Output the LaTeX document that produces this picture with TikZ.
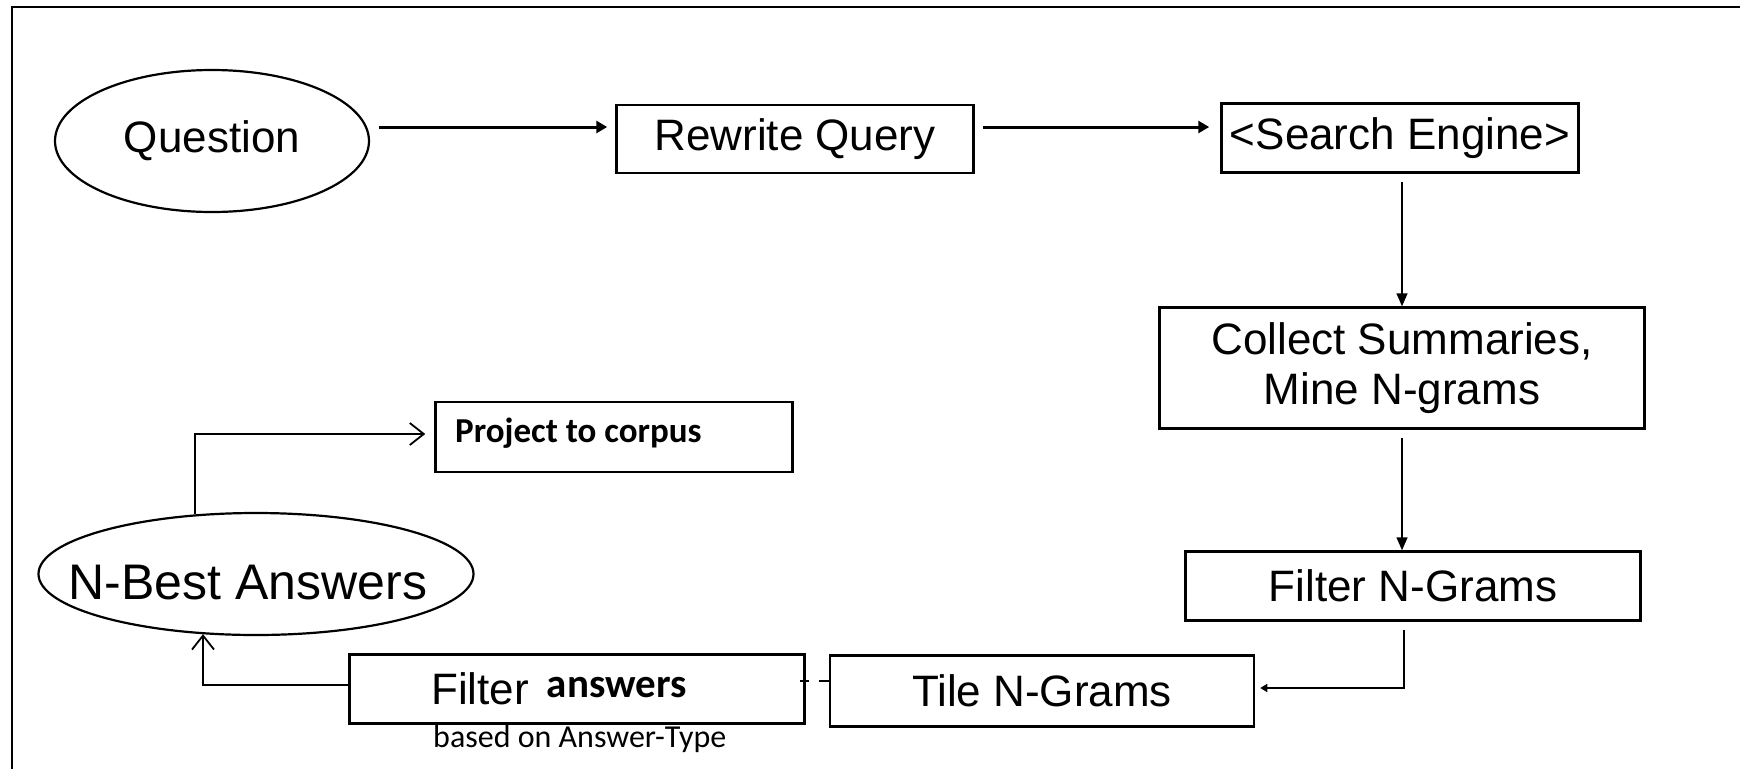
\documentclass[tikz,border=0pt]{standalone}
\usepackage{fontspec}
\setmainfont{Liberation Sans}
\newfontfamily\calfont{Carlito}
\usetikzlibrary{arrows.meta,shapes.geometric}
\tikzset{
  box/.style={draw, line width=2.5pt, rectangle, inner sep=0pt, align=center,
    font=\fontsize{44}{50}\selectfont},
  oval/.style={draw, line width=2.2pt, ellipse, inner sep=0pt,
    font=\fontsize{44}{50}\selectfont},
  lbl/.style={inner sep=0pt, font=\fontsize{44}{50}\selectfont},
  thickarr/.style={line width=3pt, -{Triangle[length=11pt,width=12pt]}},
  vertarr/.style={line width=1.6pt, -{Triangle[length=13pt,width=11pt]}},
  smallarr/.style={line width=1.6pt, -{Triangle[length=7pt,width=8pt]}},
  openarr/.style={line width=1.8pt, -{Straight Barb[length=14pt,width=22pt]}},
  stub/.style={line width=1.8pt},
  frame/.style={line width=2.2pt}
}
\begin{document}
\begin{tikzpicture}[x=1pt,y=-1pt]
\useasboundingbox (0,0) rectangle (1740,769);
% frame (top and left edges)
\coordinate (ftl) at (12,7);
\coordinate (ftr) at (1740,7);
\coordinate (fbl) at (12,769);
\draw[frame] (fbl) -- (ftl) -- (ftr);

% nodes
\node[oval, minimum width=314pt, minimum height=142pt] (q) at (212,141) {Question};
\node[box, minimum width=357pt, minimum height=68pt] (rq) at (795,139) {Rewrite Query};
\node[box, minimum width=357pt, minimum height=69pt] (se) at (1400,138) {<Search Engine>};
\node[box, minimum width=485pt, minimum height=121pt] (cs) at (1402,368) {Collect Summaries,\\Mine N-grams};
\node[box, minimum width=455pt, minimum height=69pt] (fng) at (1413,586) {Filter N-Grams};
\node[box, minimum width=424pt, minimum height=71pt] (tile) at (1042,691) {Tile N-Grams};
\node[box, minimum width=455pt, minimum height=69pt] (fa) at (577,689) {};
\node[anchor=base west, lbl] (fat) at (431,704)
  {Filter\hspace{18pt}\raisebox{7pt}{\calfont\bfseries\fontsize{41}{46}\selectfont answers}};
\node[anchor=west, inner sep=0pt, font=\calfont\fontsize{32}{36}\selectfont] (fab) at (433,739) {based on Answer-Type};
\node[oval, minimum width=435pt, minimum height=122pt] (nb) at (256,574) {};
\node[lbl, font=\fontsize{50}{56}\selectfont] (nbt) at (248,583) {N-Best Answers};
\node[box, minimum width=357pt, minimum height=70pt] (pc) at (614,437) {};
\node[anchor=west, inner sep=0pt, font=\calfont\bfseries\fontsize{35}{40}\selectfont] (pct) at (455,433) {Project to corpus};

% connectors
\draw[thickarr] ([xshift=9pt,yshift=14pt]q.east) -- ([xshift=-8pt,yshift=12pt]rq.west);
\draw[thickarr] ([xshift=8pt,yshift=12pt]rq.east) -- ([xshift=-11pt,yshift=11pt]se.west);
\draw[vertarr] ([xshift=2pt,yshift=-8pt]se.south) -- (cs.north);
\draw[vertarr] ([yshift=-8pt]cs.south) -- (cs.south |- fng.north);
\draw[smallarr] ([xshift=-9pt,yshift=-8pt]fng.south) |- ([xshift=5pt,yshift=3pt]tile.east);
\draw[stub] ([xshift=-6pt,yshift=8pt]fa.east) -- ++(9,0);
\draw[stub] ([yshift=10pt]tile.west) -- ++(-10,0);
\draw[openarr] ([yshift=4pt]fa.west) -| ([xshift=-53pt,yshift=2pt]nb.south);
\draw[openarr] ([xshift=-61pt,yshift=-2pt]nb.north) |- ([xshift=-9pt,yshift=3pt]pc.west);
\end{tikzpicture}
\end{document}
